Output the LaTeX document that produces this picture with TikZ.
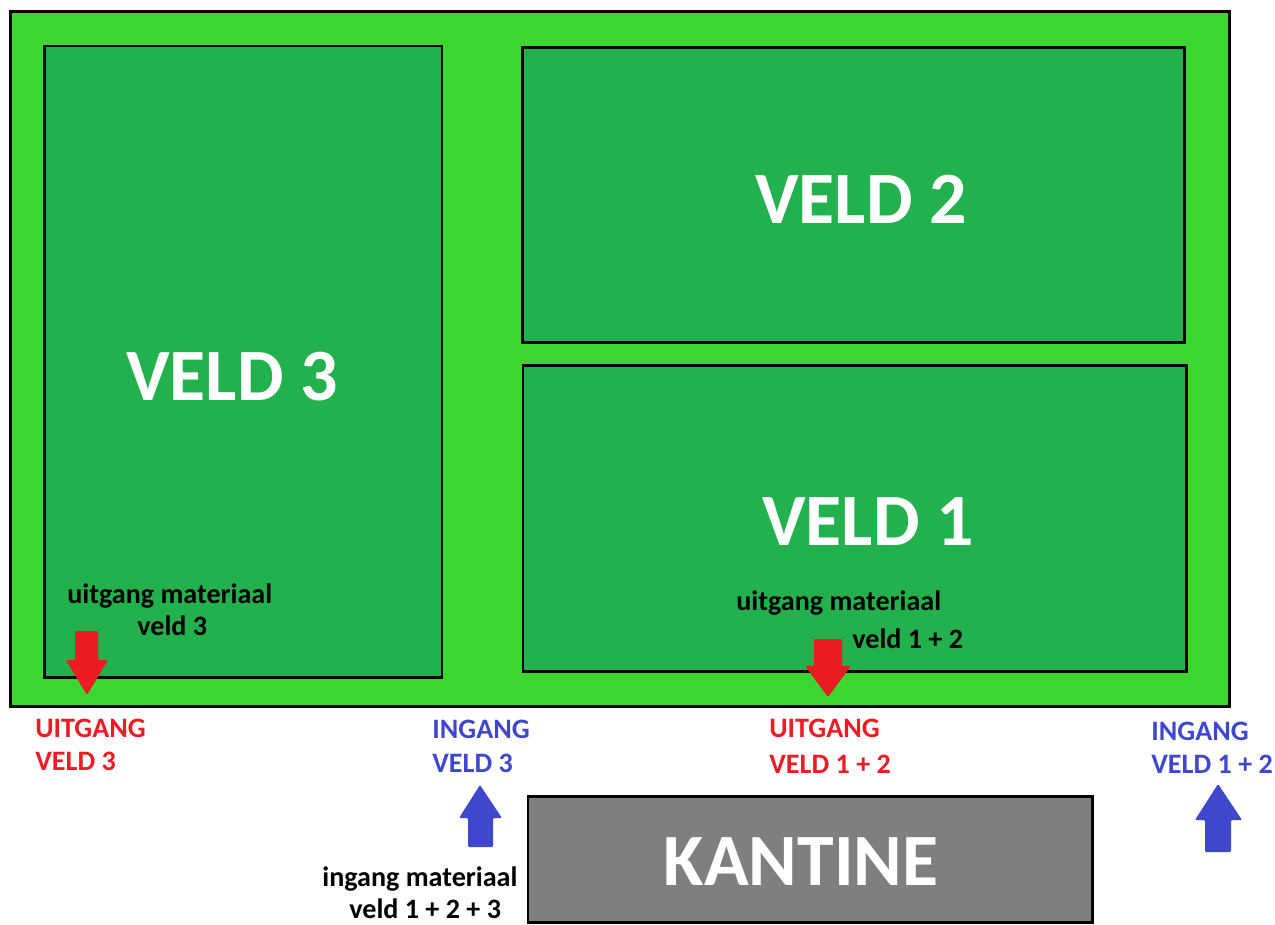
\documentclass[tikz,border=0pt]{standalone}
\usepackage{fontspec}
\setmainfont{Carlito}
\definecolor{grass}{HTML}{3CD630}
\definecolor{pitch}{HTML}{22B14C}
\definecolor{exitred}{HTML}{ED1C24}
\definecolor{entryblue}{HTML}{3F48CC}
\definecolor{canteen}{HTML}{7F7F7F}
\tikzset{
  area/.style={draw=black, line width=1.7pt},
  bigtext/.style={inner sep=0pt, anchor=base, text=white, font=\fontsize{42}{50}\selectfont\bfseries},
  smalltext/.style={inner sep=0pt, anchor=base west, font=\fontsize{16}{19}\selectfont\bfseries},
  arrowshape/.style={rounded corners=0.6pt},
}
\begin{document}
\begin{tikzpicture}[x=0.02cm, y=-0.02cm]
\useasboundingbox (0,0) rectangle (1275,924);

% grounds and fields
\draw[area, fill=grass] (10.5,11.5) rectangle (1229.5,706);
\draw[area, fill=pitch] (44.5,46) rectangle (442,677);
\draw[area, fill=pitch] (522.5,47.5) rectangle (1184,342);
\draw[area, fill=pitch] (523,365) rectangle (1186,671);
\draw[area, fill=canteen] (528,796) rectangle (1092,922);

% field names
\node[bigtext] (veld3) at (232,400) {VELD 3};
\node[bigtext] (veld2) at (861,223) {VELD 2};
\node[bigtext] (veld1) at (868,545) {VELD 1};
\node[bigtext] (kantine) at (801,885) {KANTINE};

% material notes
\node[smalltext] (mat3a) at (67,603) {uitgang materiaal};
\node[smalltext] (mat3b) at (137,635) {veld 3};
\node[smalltext] (mat12a) at (736,610) {uitgang materiaal};
\node[smalltext] (mat12b) at (852,648) {veld 1 + 2};
\node[smalltext] (matin) at (322,886) {ingang materiaal};
\node[smalltext] (matinb) at (349,918) {veld 1 + 2 + 3};

% exit and entry labels
\node[smalltext, text=exitred] (uit3a) at (35,737) {UITGANG};
\node[smalltext, text=exitred] (uit3b) at (35,770) {VELD 3};
\node[smalltext, text=entryblue] (in3a) at (432,738) {INGANG};
\node[smalltext, text=entryblue] (in3b) at (432,772) {VELD 3};
\node[smalltext, text=exitred] (uit12a) at (769,737) {UITGANG};
\node[smalltext, text=exitred] (uit12b) at (769,773) {VELD 1 + 2};
\node[smalltext, text=entryblue] (in12a) at (1151,740) {INGANG};
\node[smalltext, text=entryblue] (in12b) at (1151,773) {VELD 1 + 2};

% exit arrows (down)
\fill[exitred, arrowshape] (75,631) -- (98,631) -- (98,660) -- (108,660) -- (87,695)
  -- (66,660) -- (75,660) -- cycle;
\fill[exitred, arrowshape] (814,639) -- (842,639) -- (842,666) -- (851,666) -- (828,697)
  -- (805,666) -- (814,666) -- cycle;

% entry arrows (up)
\fill[entryblue, arrowshape] (468,847) -- (493,847) -- (493,818) -- (502,818) -- (480,785)
  -- (459,818) -- (468,818) -- cycle;
\fill[entryblue, arrowshape] (1205,852) -- (1231,852) -- (1231,820) -- (1242,820) -- (1218,784)
  -- (1195,820) -- (1205,820) -- cycle;
\end{tikzpicture}
\end{document}
